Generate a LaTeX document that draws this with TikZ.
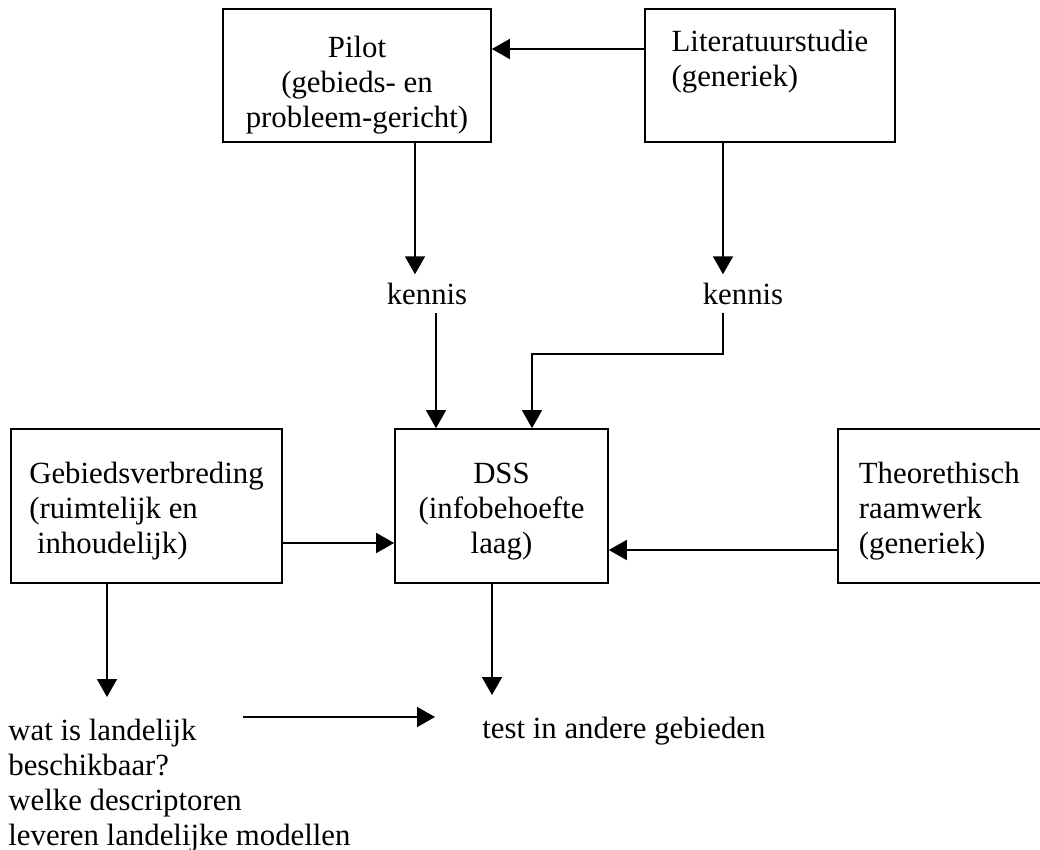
\documentclass[tikz,border=0pt]{standalone}
\usepackage{fontspec}
\setmainfont{Liberation Serif}
\usepackage{tikz}
\usetikzlibrary{positioning,arrows.meta,calc}
\tikzset{
  flowarrow/.style={-{Triangle[length=9pt, width=10pt]}, line width=0.85pt},
  topbox/.style={draw, line width=0.85pt, minimum height=66.5pt},
  midbox/.style={draw, line width=0.85pt, minimum height=77pt},
  result/.style={inner xsep=0pt, inner ysep=11pt, align=left},
  kennisnode/.style={inner sep=4pt}
}

\begin{document}
\begin{tikzpicture}[x=0.5pt, y=-0.5pt, every node/.style={font=\fontsize{15.4}{17.5}\selectfont}]
      \useasboundingbox (0,0) rectangle (1040,850);
      \clip (0,0) rectangle (1040,850);
      % bovenste rij
      \node[topbox, minimum width=134pt, align=center] (pilot) at (357,75.5) {\rule{0pt}{20.5pt}Pilot\\(gebieds- en\\probleem-gericht)};
      \node[topbox, minimum width=125pt, align=left] (lit) at (770,75.5) {Literatuurstudie\\(generiek)\\\mbox{}};
      \node[kennisnode] (kennis1) at (427,293.5) {kennis};
      \node[kennisnode] (kennis2) at (743,293.5) {kennis};
      % middelste rij
      \node[midbox, minimum width=135.5pt, align=left] (geb) at (146.5,506) {\rule{0pt}{15.5pt}Gebiedsverbreding\\(ruimtelijk en\\\hspace*{.25em}inhoudelijk)};
      \node[midbox, minimum width=106.5pt, align=center] (dss) at (501.5,506) {\rule{0pt}{15.5pt}DSS\\(infobehoefte\\laag)};
      % rechterkant valt buiten het beeld
      \node[midbox, anchor=west, inner xsep=10.5pt] (theo) at (837,506) {\parbox{140pt}{\raggedright\rule{0pt}{15.5pt}Theorethisch\\raamwerk\\(generiek)}};
      % onderste rij
      \node[result, anchor=north west] (wat) at (8,697) {wat is landelijk\\beschikbaar?\\welke descriptoren\\leveren landelijke modellen};
      \node[result, anchor=north west] (test) at (482,695) {test in andere gebieden};
      \coordinate (w) at (243,717);

      \draw[flowarrow] (lit.west |- 0,49) -- (pilot.east |- 0,49);
      \draw[flowarrow] (pilot.south -| 415,0) -- (kennis1.north -| 415,0);
      \draw[flowarrow] (lit.south -| 723,0) -- (kennis2.north -| 723,0);
      \draw[flowarrow] (kennis1.south -| 436,0) -- (dss.north -| 436,0);
      \draw[flowarrow] (kennis2.south -| 723,0) -- ++(0,41) -| (dss.north -| 532,0);
      \draw[flowarrow] (geb.east |- 0,543) -- (dss.west |- 0,543);
      \draw[flowarrow] (theo.west |- 0,550) -- (dss.east |- 0,550);
      \draw[flowarrow] (geb.south -| 107,0) -- (wat.north -| 107,0);
      \draw[flowarrow] (dss.south -| 492,0) -- (test.north -| 492,0);
      \draw[flowarrow, shorten >=23.5pt] (w) -- (w -| test.west);
    \end{tikzpicture}
\end{document}
